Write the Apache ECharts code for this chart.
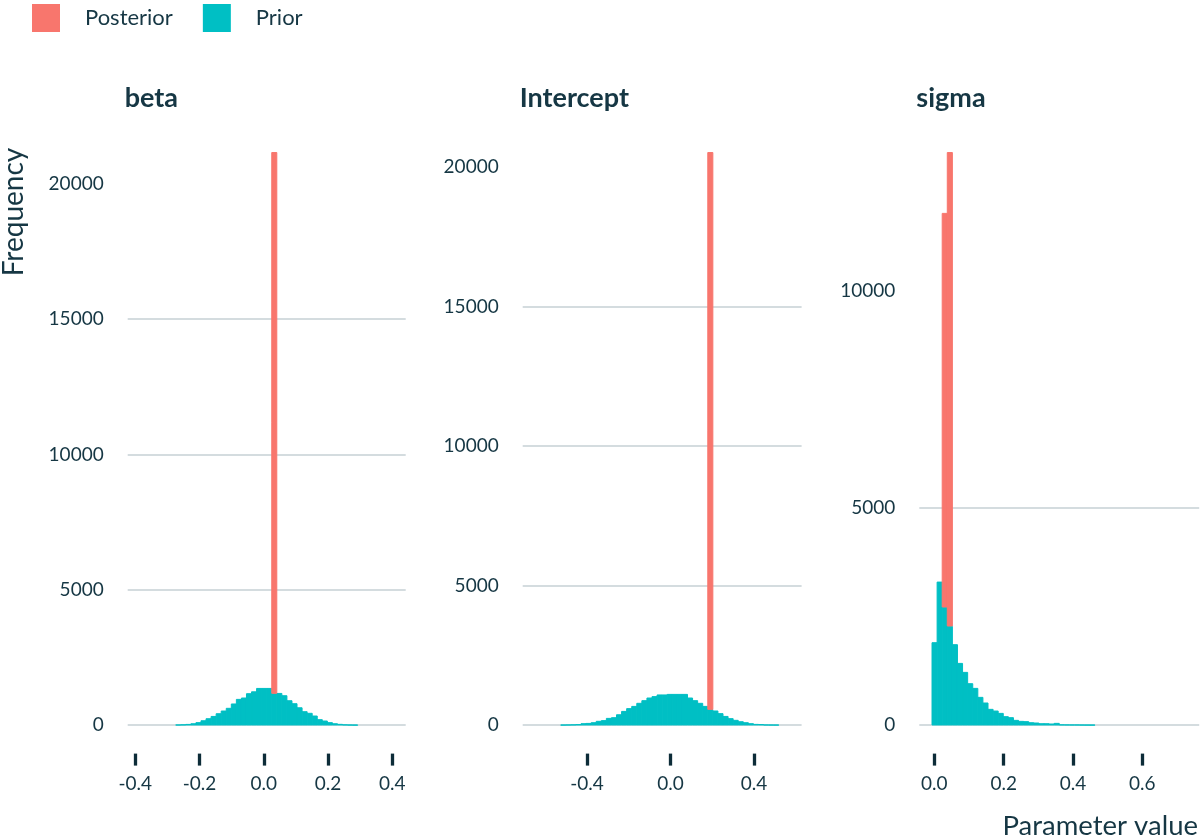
<!DOCTYPE html>
<html><head><meta charset="utf-8">
<script src="https://cdn.jsdelivr.net/npm/echarts@6/dist/echarts.min.js"></script>
<style>html,body{margin:0;padding:0;background:#fff}#c{width:1201px;height:840px}</style>
</head><body><div id="c"></div>
<script>
// ---------------- data ----------------
const panelNames = ['beta', 'Intercept', 'sigma'];
const seriesNames = ['Posterior', 'Prior'];
// histogram bins (50 per panel): first bin's left edge and bin width
const binStart = [-0.3844, -0.6474, -0.0066];
const binWidth = [0.015735, 0.02429, 0.01468];

const betaPrior = [0,0,0,0,0,0,0,
  12,20,35,60,100,170,245,330,430,530,630,790,960,1010,1170,1240,1365,1365,1365,1170,
  1180,1095,910,800,650,505,445,345,210,160,100,60,37,18,10,6,
  0,0,0,0,0,0,0];
const betaPosterior = [0,0,0,0,0,0,0,0,0,0, 0,0,0,0,0,0,0,0,0,0, 0,0,0,0,0,0,20000,0,0,0,
  0,0,0,0,0,0,0,0,0,0, 0,0,0,0,0,0,0,0,0,0];

const interceptPrior = [0,0,0,0,0,8,12,18,28,60,70,95,145,170,250,275,380,500,600,680,
  790,885,980,1030,1090,1090,1110,1110,1110,1110,980,885,790,680,560,515,420,320,240,180,
  130,95,60,35,30,12,10,8,0,0];
const interceptPosterior = [0,0,0,0,0,0,0,0,0,0, 0,0,0,0,0,0,0,0,0,0, 0,0,0,0,0,0,0,0,0,0,
  0,0,0,0,19980,0,0,0,0,0, 0,0,0,0,0,0,0,0,0,0];

const sigmaPrior = [1905,3302,2719,2281,1859,1428,1221,960,852,645,515,369,330,276,200,177,115,92,85,61,
  54,38,38,31,46,12,10,8,8,6,5,4,0,0,0,0,0,0,0,0,0,0,0,0,0,0,0,0,0,0];
const sigmaPosterior = [0,0,9080,10920,0,0,0,0,0,0, 0,0,0,0,0,0,0,0,0,0, 0,0,0,0,0,0,0,0,0,0,
  0,0,0,0,0,0,0,0,0,0, 0,0,0,0,0,0,0,0,0,0];

const priorCounts = [betaPrior, interceptPrior, sigmaPrior];
const posteriorCounts = [betaPosterior, interceptPosterior, sigmaPosterior];

const xTickValues = [[-0.4, -0.2, 0.0, 0.2, 0.4], [-0.4, 0.0, 0.4], [0.0, 0.2, 0.4, 0.6]];
const yTickValues = [[0, 5000, 10000, 15000, 20000], [0, 5000, 10000, 15000, 20000], [0, 5000, 10000]];

// ---------------- layout / style ----------------
const COLORS = { Posterior: '#F8766D', Prior: '#00BFC4' };
const TEXT = '#163744';
const TICK = '#0d2c38';
const GRIDLINE = '#c6d0d5';
const FONT = 'Lato';
const gridLeft = [127.7, 522.7, 919.3];
const gridWidth = [278.0, 278.9, 279.9];
const gridTop = 123.5, gridHeight = 630.1;

function renderBar(params, api) {
  const a = api.coord([api.value(0), api.value(3)]);
  const b = api.coord([api.value(1), api.value(2)]);
  const c = api.visual('color');
  return {
    type: 'rect',
    shape: { x: a[0], y: a[1] + 0.4, width: b[0] - a[0], height: b[1] - a[1] - 0.4 },
    style: { fill: c, stroke: c, lineWidth: 1 }
  };
}

const grids = [], xAxes = [], yAxes = [], series = [], graphics = [];
panelNames.forEach((name, p) => {
  const w = binWidth[p], s0 = binStart[p];
  const prior = priorCounts[p], post = posteriorCounts[p];
  const priorData = [], postData = [];
  let total = 0;
  prior.forEach((v, i) => {
    const x0 = s0 + i * w, x1 = x0 + w;
    if (v > 0) priorData.push([x0, x1, 0, v]);
    if (post[i] > 0) postData.push([x0, x1, v, v + post[i]]);
    total = Math.max(total, v + post[i]);
  });
  const nb = prior.length;
  grids.push({ left: gridLeft[p], top: gridTop, width: gridWidth[p], height: gridHeight, containLabel: false });
  xAxes.push({
    type: 'value', gridIndex: p, position: 'bottom',
    min: s0 - 0.05 * nb * w, max: s0 + nb * w + 0.05 * nb * w,
    axisLine: { show: false, onZero: false },
    splitLine: { show: false },
    axisTick: { show: true, customValues: xTickValues[p], length: 12, lineStyle: { color: TICK, width: 3.3 } },
    axisLabel: { customValues: xTickValues[p], fontSize: 19, color: TEXT, fontFamily: FONT, margin: 21,
      formatter: v => v.toFixed(1) }
  });
  yAxes.push({
    type: 'value', gridIndex: p,
    min: -0.05 * total, max: 1.05 * total,
    axisLine: { show: false },
    axisTick: { show: false, customValues: yTickValues[p] },
    splitLine: { show: true, showMinLine: true, showMaxLine: false, lineStyle: { color: GRIDLINE, width: 1.7 } },
    axisLabel: { customValues: yTickValues[p], fontSize: 19, color: TEXT, fontFamily: FONT, margin: 24,
      formatter: v => String(Math.round(v)) }
  });
  series.push({
    name: 'Prior', type: 'custom', xAxisIndex: p, yAxisIndex: p,
    itemStyle: { color: COLORS.Prior }, encode: { x: [0, 1], y: [2, 3] },
    renderItem: renderBar, data: priorData, silent: true
  });
  series.push({
    name: 'Posterior', type: 'custom', xAxisIndex: p, yAxisIndex: p,
    itemStyle: { color: COLORS.Posterior }, encode: { x: [0, 1], y: [2, 3] },
    renderItem: renderBar, data: postData, silent: true
  });
  graphics.push({
    type: 'text', x: gridLeft[p] - 3, y: 98,
    style: { text: name, fill: TEXT, font: 'bold 27px ' + FONT, textAlign: 'left', textVerticalAlign: 'middle' }
  });
});

graphics.push({
  type: 'text', x: 14, y: 212, rotation: Math.PI / 2,
  style: { text: 'Frequency', fill: TEXT, font: '28px ' + FONT, textAlign: 'center', textVerticalAlign: 'middle' }
});
graphics.push({
  type: 'text', x: 1198, y: 826,
  style: { text: 'Parameter value', fill: TEXT, font: '27.5px ' + FONT, textAlign: 'right', textVerticalAlign: 'middle' }
});

const chart = echarts.init(document.getElementById('c'), null, { renderer: 'canvas' });
chart.setOption({
  animation: false,
  backgroundColor: '#ffffff',
  color: [COLORS.Posterior, COLORS.Prior],
  legend: {
    data: seriesNames, left: 32, top: 4, padding: 0, icon: 'rect', itemWidth: 28, itemHeight: 28, itemGap: 30,
    selectedMode: false,
    textStyle: { fontSize: 22, color: TEXT, fontFamily: FONT, padding: [0, 0, 0, 20] }
  },
  grid: grids, xAxis: xAxes, yAxis: yAxes, series: series, graphic: graphics
});
</script>
</body></html>
